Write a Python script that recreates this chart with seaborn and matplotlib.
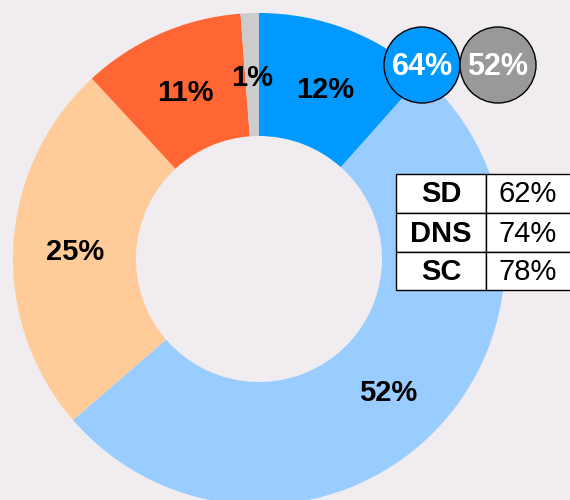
import matplotlib
matplotlib.use("Agg")
import matplotlib.pyplot as plt
import seaborn as sns
import numpy as np
from matplotlib.patches import Circle, Rectangle

# ---- data ----
slice_values = [11.6, 52.1, 24.5, 10.7, 1.2]
slice_labels = ["12%", "52%", "25%", "11%", "1%"]
slice_colors = ["#0099FF", "#99CCFF", "#FFCC99", "#FF6633", "#CCCCCC"]
bubble_labels = ["64%", "52%"]
bubble_colors = ["#0099FF", "#999999"]
table_names = ["SD", "DNS", "SC"]
table_values = ["62%", "74%", "78%"]

sns.set_theme(style="white")
plt.rcParams["font.family"] = ["Liberation Sans", "DejaVu Sans"]

BG = "#F0ECF0"
W, H = 570, 500
fig = plt.figure(figsize=(W / 100, H / 100), dpi=100, facecolor=BG)
ax = fig.add_axes([0, 0, 1, 1])
ax.set_facecolor(BG)

def py(y):  # pixel y (top-down) to data y
    return H - y

cx, cy, R = 259, py(259), 246
wedges, _ = ax.pie(slice_values, colors=slice_colors, startangle=90, counterclock=False,
                   radius=R, center=(cx, cy),
                   wedgeprops=dict(width=R * 0.5, linewidth=0))
for w, lab in zip(wedges, slice_labels):
    a = np.deg2rad((w.theta1 + w.theta2) / 2)
    r = R * 0.75
    ax.text(cx + r * np.cos(a), cy + r * np.sin(a) - 3, lab, ha="center", va="center",
            fontsize=21, fontweight="bold", color="black")

# bubbles
for i, (lab, col) in enumerate(zip(bubble_labels, bubble_colors)):
    x = 422 + i * 76
    ax.add_patch(Circle((x, py(65)), 38, facecolor=col, edgecolor="black", lw=1, zorder=5))
    ax.text(x, py(67), lab, ha="center", va="center", fontsize=22, fontweight="bold",
            color="white", zorder=6)

# table
x0, xm, x1 = 396, 486, 572
rows_y = [174, 213, 252, 290]
for i, (n, v) in enumerate(zip(table_names, table_values)):
    yt, yb = rows_y[i], rows_y[i + 1]
    ax.add_patch(Rectangle((x0, py(yb)), xm - x0, yb - yt, facecolor="white",
                           edgecolor="black", lw=1, zorder=5))
    ax.add_patch(Rectangle((xm, py(yb)), x1 - xm, yb - yt, facecolor="white",
                           edgecolor="black", lw=1, zorder=5))
    ym = py((yt + yb) / 2 + 1)
    ax.text((x0 + xm) / 2, ym, n, ha="center", va="center", fontsize=21,
            fontweight="bold", color="black", zorder=6)
    ax.text((xm + 572) / 2 - 1, ym, v, ha="center", va="center", fontsize=21,
            color="black", zorder=6)

ax.set_xlim(0, W)
ax.set_ylim(0, H)
ax.set_aspect("equal")
ax.axis("off")
fig.savefig("out.png", dpi=100, facecolor=BG)
